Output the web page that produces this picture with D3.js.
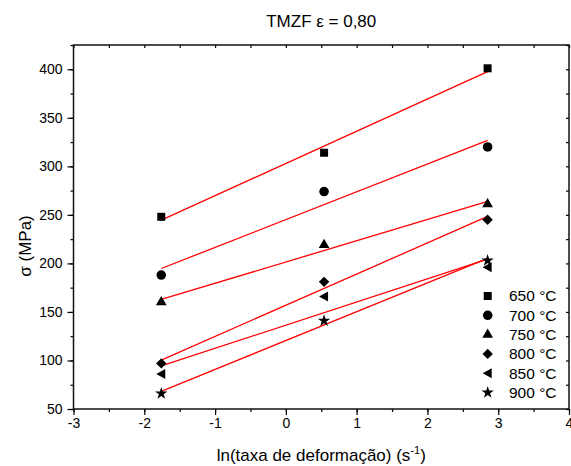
<!DOCTYPE html>
<html>
<head>
<meta charset="utf-8">
<script src="https://cdn.jsdelivr.net/npm/d3@7/dist/d3.min.js"></script>
<style>
  html, body { margin: 0; padding: 0; background: #fff; }
  svg { display: block; font-family: Arial, "Liberation Sans", sans-serif; }
</style>
</head>
<body>
<svg id="chart" width="571" height="466"></svg>
<script>
// ln(strain rate) at which each test was run
const lnRate = [-1.76, 0.54, 2.85];

// Flow stress (MPa) per temperature
const temps = ["650 °C", "700 °C", "750 °C", "800 °C", "850 °C", "900 °C"];
const s650 = [248, 314, 401];
const s700 = [188, 274, 320];
const s750 = [160, 219, 261];
const s800 = [97, 181, 245];
const s850 = [86, 166, 196];
const s900 = [66, 141, 203];
const markers = ["square", "circle", "triangle", "diamond", "triangleLeft", "star"];

const xTicks = [-3, -2, -1, 0, 1, 2, 3, 4];
const yTicks = [50, 100, 150, 200, 250, 300, 350, 400];

const seriesValues = [s650, s700, s750, s800, s850, s900];

const svg = d3.select("#chart");
const m = { left: 73.5, right: 569, top: 45, bottom: 409 };

const x = d3.scaleLinear().domain([-3, 4]).range([m.left, m.right]);
const y = d3.scaleLinear().domain([50, 425]).range([m.bottom, m.top]);

// Title
svg.append("text")
  .attr("x", (m.left + m.right) / 2).attr("y", 27)
  .attr("text-anchor", "middle").attr("font-size", 17)
  .text("TMZF ε = 0,80");

// Axes: outward ticks bottom/left, inward minor ticks top/right
const minorX = d3.range(-3, 4.01, 0.5);
const minorY = d3.range(50, 425.1, 25);
const plain = d => String(d);

const gB = svg.append("g").attr("transform", `translate(0,${m.bottom})`);
gB.call(d3.axisBottom(x).tickValues(minorX).tickSize(3).tickFormat(""));
gB.call(g => g.selectAll(".domain").remove());
const gB2 = svg.append("g").attr("transform", `translate(0,${m.bottom})`)
  .call(d3.axisBottom(x).tickValues(xTicks).tickSize(6).tickPadding(3).tickFormat(plain));
gB2.select(".domain").remove();
gB2.selectAll("text").attr("font-size", 14).attr("fill", "#000").attr("font-family", "Arial, 'Liberation Sans', sans-serif");

const gL = svg.append("g").attr("transform", `translate(${m.left},0)`);
gL.call(d3.axisLeft(y).tickValues(minorY).tickSize(3).tickFormat(""));
gL.call(g => g.selectAll(".domain").remove());
const gL2 = svg.append("g").attr("transform", `translate(${m.left},0)`)
  .call(d3.axisLeft(y).tickValues(yTicks).tickSize(6).tickPadding(5).tickFormat(plain));
gL2.select(".domain").remove();
gL2.selectAll("text").attr("font-size", 14).attr("fill", "#000").attr("font-family", "Arial, 'Liberation Sans', sans-serif");

const gT = svg.append("g").attr("transform", `translate(0,${m.top})`)
  .call(d3.axisBottom(x).tickValues(minorX).tickSize(3).tickFormat(""));
gT.select(".domain").remove();
const gR = svg.append("g").attr("transform", `translate(${m.right},0)`)
  .call(d3.axisLeft(y).tickValues(minorY).tickSize(3).tickFormat(""));
gR.select(".domain").remove();

svg.selectAll(".tick line").attr("stroke", "#000").attr("stroke-width", 1.2);

// Frame
svg.append("rect")
  .attr("x", m.left).attr("y", m.top)
  .attr("width", m.right - m.left).attr("height", m.bottom - m.top)
  .attr("fill", "none").attr("stroke", "#111").attr("stroke-width", 1.5);

// Axis titles
const xl = svg.append("text")
  .attr("x", (m.left + m.right) / 2).attr("y", 461)
  .attr("text-anchor", "middle").attr("font-size", 17);
xl.append("tspan").text("ln(taxa de deformação) (s");
xl.append("tspan").attr("dy", -7).attr("font-size", 11).text("-1");
xl.append("tspan").attr("dy", 7).text(")");

svg.append("text")
  .attr("transform", "translate(31,246) rotate(-90)")
  .attr("text-anchor", "middle").attr("font-size", 17)
  .text("σ (MPa)");

// Least-squares fit for each series
function fit(xs, ys) {
  const mx = d3.mean(xs), my = d3.mean(ys);
  let sxy = 0, sxx = 0;
  xs.forEach((xv, i) => { sxy += (xv - mx) * (ys[i] - my); sxx += (xv - mx) ** 2; });
  const b = sxy / sxx;
  return xv => my + b * (xv - mx);
}

const lines = svg.append("g");
seriesValues.forEach(vals => {
  const f = fit(lnRate, vals);
  const x0 = d3.min(lnRate), x1 = d3.max(lnRate);
  lines.append("line")
    .attr("x1", x(x0)).attr("y1", y(f(x0)))
    .attr("x2", x(x1)).attr("y2", y(f(x1)))
    .attr("stroke", "#ff0000").attr("stroke-width", 1.3);
});

// Marker shapes
function markerPath(kind) {
  switch (kind) {
    case "square": return d3.symbol(d3.symbolSquare, 64)();
    case "circle": return d3.symbol(d3.symbolCircle, 72)();
    case "triangle": return d3.symbol(d3.symbolTriangle, 50)();
    case "diamond": return "M0,-5.2L5.2,0L0,5.2L-5.2,0Z";
    case "triangleLeft": return "M-5,0L4,-5L4,5Z";
    case "star": return d3.symbol(d3.symbolStar, 48)();
  }
}

const pts = svg.append("g");
seriesValues.forEach((vals, si) => {
  vals.forEach((v, i) => {
    pts.append("path")
      .attr("d", markerPath(markers[si]))
      .attr("transform", `translate(${x(lnRate[i])},${y(v)})`)
      .attr("fill", "#000");
  });
});

// Legend
const leg = svg.append("g");
temps.forEach((t, i) => {
  const ly = 296 + i * 19.3;
  leg.append("path")
    .attr("d", markerPath(markers[i]))
    .attr("transform", `translate(487.7,${ly})`)
    .attr("fill", "#000");
  leg.append("text")
    .attr("x", 509).attr("y", ly).attr("dy", "0.35em")
    .attr("font-size", 15.5).text(t);
});
</script>
</body>
</html>
